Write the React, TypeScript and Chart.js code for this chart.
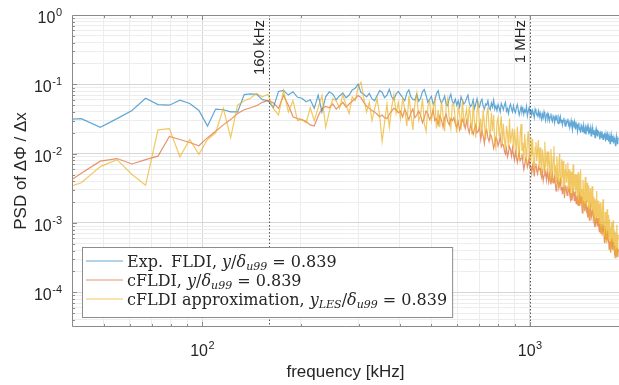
import React, { useEffect, useRef } from "react";
import { Chart, registerables } from "chart.js";

Chart.register(...registerables);

// ---- frequency grid (FFT bins, kHz) ----
const BIN_KHZ = 6.1;
const FIRST_BIN = 6;

// ---- PSD series (one value per bin) ----
const EXP_FLDI = [
  0.031, 0.032, 0.024, 0.032, 0.042, 0.063, 0.051, 0.050, 0.059, 0.053,
  0.042, 0.025, 0.044, 0.043, 0.040, 0.040, 0.071, 0.073, 0.072, 0.060,
  0.058, 0.046, 0.079, 0.082, 0.070, 0.078, 0.065, 0.063, 0.056, 0.060,
  0.045, 0.070, 0.040, 0.066, 0.078, 0.072, 0.060, 0.068, 0.075, 0.064,
  0.070, 0.083, 0.088, 0.100, 0.076, 0.072, 0.066, 0.074, 0.062, 0.058,
  0.069, 0.081, 0.077, 0.064, 0.070, 0.085, 0.066, 0.060, 0.073, 0.079,
  0.071, 0.064, 0.058, 0.075, 0.083, 0.066, 0.061, 0.059, 0.072, 0.057,
  0.063, 0.078, 0.084, 0.069, 0.055, 0.061, 0.067, 0.052, 0.058, 0.074,
  0.081, 0.062, 0.054, 0.059, 0.068, 0.051, 0.049, 0.063, 0.072, 0.056,
  0.053, 0.061, 0.050, 0.058, 0.047, 0.066, 0.059, 0.052, 0.055, 0.063,
  0.070, 0.054, 0.048, 0.051, 0.060, 0.045, 0.052, 0.062, 0.049, 0.047,
  0.056, 0.061, 0.048, 0.044, 0.052, 0.050, 0.058, 0.046, 0.043, 0.054,
  0.047, 0.059, 0.044, 0.049, 0.042, 0.051, 0.046, 0.040, 0.053, 0.048,
  0.043, 0.050, 0.055, 0.041, 0.045, 0.038, 0.047, 0.052, 0.044, 0.040,
  0.049, 0.042, 0.039, 0.046, 0.051, 0.043, 0.036, 0.041, 0.047, 0.040,
  0.045, 0.037, 0.043, 0.040, 0.048, 0.035, 0.041, 0.046, 0.039, 0.044,
  0.036, 0.042, 0.038, 0.033, 0.044, 0.040, 0.037, 0.035, 0.041, 0.034,
  0.039, 0.034, 0.031, 0.037, 0.033, 0.040, 0.035, 0.030, 0.036, 0.038,
  0.032, 0.036, 0.030, 0.034, 0.038, 0.031, 0.029, 0.035, 0.033, 0.028,
  0.034, 0.031, 0.036, 0.029, 0.027, 0.033, 0.030, 0.034, 0.028, 0.031,
  0.026, 0.030, 0.033, 0.028, 0.025, 0.031, 0.027, 0.029, 0.032, 0.026,
  0.028, 0.024, 0.026, 0.030, 0.025, 0.022, 0.028, 0.026, 0.029, 0.024,
  0.023, 0.027, 0.025, 0.021, 0.026, 0.028, 0.022, 0.024, 0.020, 0.026,
  0.025, 0.021, 0.023, 0.026, 0.020, 0.022, 0.024, 0.019, 0.023, 0.025,
  0.021, 0.024, 0.019, 0.022, 0.020, 0.023, 0.018, 0.021, 0.024, 0.020,
  0.019, 0.022, 0.020, 0.017, 0.021, 0.023, 0.019, 0.018, 0.022, 0.020,
  0.021, 0.018, 0.016, 0.020, 0.019, 0.017, 0.021, 0.018, 0.016, 0.019,
  0.017, 0.020, 0.018, 0.015, 0.019, 0.017, 0.016, 0.019, 0.018, 0.015,
  0.018, 0.016, 0.014, 0.017, 0.019, 0.016, 0.015, 0.018, 0.016, 0.014,
  0.017, 0.015, 0.016, 0.013, 0.015, 0.018, 0.016, 0.014, 0.015, 0.017,
];

const CFLDI = [
  0.0032, 0.0052, 0.0078, 0.0085, 0.0071, 0.0082, 0.0092, 0.0177, 0.0160, 0.0145,
  0.0130, 0.0170, 0.0210, 0.0260, 0.0310, 0.0380, 0.0430, 0.0460, 0.0490, 0.0550,
  0.0580, 0.0540, 0.0450, 0.0690, 0.0500, 0.0340, 0.0320, 0.0310, 0.0290, 0.0260,
  0.0250, 0.0350, 0.0450, 0.0480, 0.0460, 0.0520, 0.0440, 0.0490, 0.0550, 0.0470,
  0.0520, 0.0570, 0.0620, 0.0690, 0.0640, 0.0550, 0.0480, 0.0450, 0.0420, 0.0400,
  0.0370, 0.0340, 0.0360, 0.0330, 0.0320, 0.0370, 0.0410, 0.0450, 0.0430, 0.0390,
  0.041, 0.034, 0.044, 0.037, 0.031, 0.039, 0.044, 0.033, 0.036, 0.041,
  0.036, 0.028, 0.033, 0.041, 0.038, 0.031, 0.034, 0.043, 0.030, 0.032,
  0.026, 0.035, 0.031, 0.024, 0.033, 0.037, 0.029, 0.026, 0.032, 0.030,
  0.033, 0.027, 0.024, 0.029, 0.022, 0.026, 0.031, 0.028, 0.023, 0.030,
  0.024, 0.020, 0.026, 0.022, 0.019, 0.023, 0.026, 0.020, 0.021, 0.025,
  0.016, 0.021, 0.018, 0.014, 0.020, 0.022, 0.017, 0.015, 0.019, 0.018,
  0.015, 0.012, 0.014, 0.017, 0.016, 0.013, 0.0145, 0.018, 0.0126, 0.0136,
  0.0134, 0.011, 0.0099, 0.0119, 0.0090, 0.0106, 0.0127, 0.0114, 0.0092, 0.0121,
  0.0097, 0.0081, 0.0106, 0.0088, 0.0075, 0.0092, 0.0104, 0.0079, 0.0085, 0.0099,
  0.0075, 0.0059, 0.0069, 0.0085, 0.0080, 0.0064, 0.0071, 0.0089, 0.0062, 0.0067,
  0.0052, 0.0068, 0.0060, 0.0047, 0.0065, 0.0072, 0.0056, 0.0051, 0.0064, 0.0059,
  0.0061, 0.0050, 0.0045, 0.0054, 0.0041, 0.0048, 0.0058, 0.0052, 0.0042, 0.0055,
  0.0046, 0.0039, 0.0050, 0.0042, 0.0036, 0.0044, 0.0050, 0.0038, 0.0041, 0.0047,
  0.0037, 0.0029, 0.0034, 0.0042, 0.0039, 0.0032, 0.0035, 0.0044, 0.0030, 0.0033,
  0.0026, 0.0033, 0.0030, 0.0023, 0.0032, 0.0035, 0.0028, 0.0025, 0.0031, 0.0029,
  0.0031, 0.0025, 0.0022, 0.0027, 0.0021, 0.0024, 0.0029, 0.0026, 0.0021, 0.0028,
  0.0023, 0.0019, 0.0025, 0.0021, 0.0018, 0.0022, 0.0025, 0.0019, 0.0020, 0.0024,
  0.0018, 0.0014, 0.0016, 0.0020, 0.0019, 0.0015, 0.0017, 0.0021, 0.0015, 0.0016,
  0.0012, 0.0016, 0.0014, 0.0011, 0.0015, 0.0017, 0.0013, 0.0012, 0.0015, 0.0014,
  0.0013, 0.00107, 0.00096, 0.00116, 0.00088, 0.00103, 0.00123, 0.00111, 0.00090, 0.00118,
  0.00090, 0.00075, 0.00098, 0.00082, 0.00070, 0.00086, 0.00097, 0.00074, 0.00080, 0.00092,
  0.00065, 0.00051, 0.00060, 0.00074, 0.00069, 0.00056, 0.00062, 0.00078, 0.00054, 0.00058,
  0.00042, 0.00055, 0.00049, 0.00038, 0.00053, 0.00059, 0.00046, 0.00041, 0.00052, 0.00048,
  0.00046, 0.00038, 0.00034, 0.00041, 0.00031, 0.00036, 0.00044, 0.00040, 0.00032, 0.00042,
];

const CFLDI_APPROX = [
  0.0030, 0.0038, 0.0065, 0.0082, 0.0050, 0.0035, 0.022, 0.023, 0.0090, 0.016,
  0.0098, 0.016, 0.020, 0.045, 0.017, 0.050, 0.058, 0.063, 0.074, 0.066,
  0.072, 0.045, 0.036, 0.082, 0.040, 0.058, 0.030, 0.031, 0.028, 0.046,
  0.030, 0.046, 0.069, 0.024, 0.040, 0.062, 0.058, 0.045, 0.071, 0.050,
  0.038, 0.066, 0.058, 0.090, 0.107, 0.062, 0.040, 0.055, 0.030, 0.044,
  0.062, 0.035, 0.015, 0.028, 0.052, 0.024, 0.046, 0.071, 0.038, 0.055,
  0.032, 0.062, 0.044, 0.025, 0.068, 0.038, 0.022, 0.052, 0.074, 0.030,
  0.036, 0.063, 0.027, 0.021, 0.048, 0.057, 0.030, 0.044, 0.061, 0.023,
  0.043, 0.024, 0.058, 0.036, 0.021, 0.049, 0.063, 0.031, 0.023, 0.052,
  0.051, 0.031, 0.020, 0.048, 0.037, 0.022, 0.061, 0.027, 0.034, 0.044,
  0.025, 0.048, 0.034, 0.019, 0.053, 0.029, 0.017, 0.040, 0.057, 0.023,
  0.032, 0.018, 0.043, 0.027, 0.016, 0.036, 0.047, 0.023, 0.018, 0.039,
  0.021, 0.036, 0.015, 0.012, 0.028, 0.033, 0.018, 0.025, 0.035, 0.013,
  0.027, 0.016, 0.011, 0.025, 0.020, 0.012, 0.032, 0.014, 0.018, 0.023,
  0.0116, 0.0225, 0.0160, 0.0090, 0.0247, 0.0138, 0.0080, 0.0189, 0.0268, 0.0109,
  0.0144, 0.0082, 0.0192, 0.0120, 0.0070, 0.0162, 0.0210, 0.0102, 0.0078, 0.0174,
  0.0093, 0.0162, 0.0069, 0.0054, 0.0123, 0.0147, 0.0078, 0.0113, 0.0157, 0.0059,
  0.0123, 0.0074, 0.0049, 0.0115, 0.0090, 0.0054, 0.0148, 0.0064, 0.0082, 0.0107,
  0.0055, 0.0107, 0.0076, 0.0043, 0.0117, 0.0066, 0.0038, 0.0090, 0.0128, 0.0052,
  0.0068, 0.0039, 0.0091, 0.0057, 0.0033, 0.0077, 0.0100, 0.0048, 0.0037, 0.0083,
  0.0045, 0.0078, 0.0033, 0.0026, 0.0059, 0.0071, 0.0038, 0.0054, 0.0075, 0.0028,
  0.0059, 0.0035, 0.0023, 0.0055, 0.0043, 0.0026, 0.0070, 0.0030, 0.0039, 0.0051,
  0.0026, 0.0050, 0.0035, 0.0020, 0.0054, 0.0030, 0.0018, 0.0042, 0.0059, 0.0024,
  0.0031, 0.0018, 0.0042, 0.0026, 0.0015, 0.0035, 0.0046, 0.0022, 0.0017, 0.0038,
  0.0020, 0.0035, 0.0015, 0.0012, 0.0026, 0.0032, 0.0017, 0.0024, 0.0034, 0.0013,
  0.0024, 0.0014, 0.00096, 0.0022, 0.0018, 0.00106, 0.0029, 0.00125, 0.0016, 0.0021,
  0.00096, 0.0019, 0.0013, 0.00074, 0.0020, 0.00114, 0.00066, 0.00156, 0.0022, 0.00090,
  0.00108, 0.00061, 0.00144, 0.00090, 0.00052, 0.00122, 0.00158, 0.00077, 0.00059, 0.0013,
  0.00065, 0.00112, 0.00048, 0.00037, 0.00085, 0.00102, 0.00054, 0.00078, 0.00109, 0.00041,
  0.00078, 0.00047, 0.00031, 0.00073, 0.00057, 0.00034, 0.00094, 0.00041, 0.00052, 0.00068,
];

// ---- axes ----
const X_MIN = 40;
const X_MAX = 1870;
const Y_MIN = 3.16e-5;
const Y_MAX = 1;
const X_GRID = [40, 50, 60, 70, 80, 90, 100, 200, 300, 400, 500, 600, 700, 800, 900, 1000];
const Y_DECADES = [1e-5, 1e-4, 1e-3, 1e-2, 1e-1, 1];
const MINOR_STEPS = [1, 2, 3, 4, 5, 6, 7, 8, 9];
const X_TICK_LABELS = [{ value: 100, exp: "2" }, { value: 1000, exp: "3" }];
const Y_TICK_LABELS = [
  { value: 1, exp: "0" },
  { value: 0.1, exp: "-1" },
  { value: 0.01, exp: "-2" },
  { value: 0.001, exp: "-3" },
  { value: 0.0001, exp: "-4" },
];
const MARKERS = [
  { value: 160, label: "160 kHz" },
  { value: 1000, label: "1 MHz" },
];
const X_TITLE = "frequency [kHz]";
const Y_TITLE = "PSD of \u0394\u03A6 / \u0394x";

// ---- legend ----
const SERIES_NAMES = [
  "Exp. FLDI, y/\u03B4u99 = 0.839",
  "cFLDI, y/\u03B4u99 = 0.839",
  "cFLDI approximation, yLES/\u03B4u99 = 0.839",
];
const LEGEND_RICH = [
  [["Exp.\u2002FLDI, ", "rm"], ["y", "it"], ["/", "rm"], ["\u03B4", "it"], ["u99", "sub"], [" = 0.839", "rm"]],
  [["cFLDI, ", "rm"], ["y", "it"], ["/", "rm"], ["\u03B4", "it"], ["u99", "sub"], [" = 0.839", "rm"]],
  [["cFLDI approximation, ", "rm"], ["y", "it"], ["LES", "sub"], ["/", "rm"], ["\u03B4", "it"], ["u99", "sub"], [" = 0.839", "rm"]],
];

const BLUE = "rgba(0,114,189,0.62)";
const ORANGE = "rgba(217,83,25,0.62)";
const YELLOW = "rgba(237,177,32,0.7)";
const SERIES_COLORS = [BLUE, ORANGE, YELLOW];

const SANS = '"Liberation Sans", Arial, Helvetica, sans-serif';
const SERIF = '"DejaVu Serif", "Liberation Serif", serif';
const TEXT_COLOR = "#262626";
const AXIS_COLOR = "#8a8a8a";

const FREQ_KHZ = EXP_FLDI.map((_, i) => (FIRST_BIN + i) * BIN_KHZ);
const toPoints = (vals: number[]) => vals.map((v, i) => ({ x: FREQ_KHZ[i], y: v }));

const isDecade = (v: number) => Math.abs(Math.log10(v) - Math.round(Math.log10(v))) < 1e-6;
const Y_GRID = Y_DECADES.flatMap((d) => MINOR_STEPS.map((m) => m * d)).filter(
  (v) => v >= Y_MIN * 0.999 && v <= Y_MAX * 1.001
);

function drawPow(ctx: CanvasRenderingContext2D, x: number, baseY: number, exp: string, align: "right" | "center") {
  ctx.font = `16px ${SANS}`;
  const w10 = ctx.measureText("10").width;
  ctx.font = `11px ${SANS}`;
  const we = ctx.measureText(exp).width;
  const total = w10 + we + 0.5;
  const start = align === "right" ? x - total : x - total / 2;
  ctx.textAlign = "left";
  ctx.textBaseline = "alphabetic";
  ctx.fillStyle = TEXT_COLOR;
  ctx.font = `16px ${SANS}`;
  ctx.fillText("10", start, baseY);
  ctx.font = `11px ${SANS}`;
  ctx.fillText(exp, start + w10 + 0.5, baseY - 7);
}

const decorPlugin = {
  id: "decor",
  beforeDatasetsDraw(chart: any) {
    const { ctx, chartArea } = chart;
    const xs = chart.scales.x;
    ctx.save();
    ctx.strokeStyle = "#555555";
    ctx.lineWidth = 1;
    ctx.setLineDash([1.5, 2]);
    MARKERS.forEach((m) => {
      const px = Math.round(xs.getPixelForValue(m.value)) + 0.5;
      ctx.beginPath();
      ctx.moveTo(px, chartArea.top);
      ctx.lineTo(px, chartArea.bottom);
      ctx.stroke();
    });
    ctx.restore();
  },
  afterDatasetsDraw(chart: any) {
    const { ctx, chartArea } = chart;
    const xs = chart.scales.x;
    const ys = chart.scales.y;
    const { left, right, top, bottom } = chartArea;
    ctx.save();
    // frame
    ctx.strokeStyle = AXIS_COLOR;
    ctx.lineWidth = 1;
    ctx.beginPath();
    ctx.moveTo(right, top + 0.5);
    ctx.lineTo(left + 0.5, top + 0.5);
    ctx.lineTo(left + 0.5, bottom - 0.5);
    ctx.lineTo(right, bottom - 0.5);
    ctx.stroke();
    // inward ticks
    ctx.beginPath();
    X_GRID.forEach((v) => {
      if (v <= X_MIN) return;
      const px = Math.round(xs.getPixelForValue(v)) + 0.5;
      const len = isDecade(v) ? 5 : 3;
      ctx.moveTo(px, bottom);
      ctx.lineTo(px, bottom - len);
      ctx.moveTo(px, top);
      ctx.lineTo(px, top + len);
    });
    Y_GRID.forEach((v) => {
      if (v >= Y_MAX) return;
      const py = Math.round(ys.getPixelForValue(v)) + 0.5;
      const len = isDecade(v) ? 5 : 3;
      ctx.moveTo(left, py);
      ctx.lineTo(left + len, py);
    });
    ctx.stroke();
    // tick labels
    X_TICK_LABELS.forEach((t) => drawPow(ctx, xs.getPixelForValue(t.value), bottom + 29, t.exp, "center"));
    Y_TICK_LABELS.forEach((t) => drawPow(ctx, left - 10, ys.getPixelForValue(t.value) + 8, t.exp, "right"));
    // marker labels
    ctx.fillStyle = TEXT_COLOR;
    ctx.font = `15px ${SANS}`;
    MARKERS.forEach((m) => {
      const px = xs.getPixelForValue(m.value);
      ctx.save();
      ctx.translate(px - 5, top + 5);
      ctx.rotate(-Math.PI / 2);
      ctx.textAlign = "right";
      ctx.textBaseline = "alphabetic";
      ctx.fillText(m.label, 0, 0);
      ctx.restore();
    });
    // legend
    const size = 16;
    const fontFor = (s: string) =>
      s === "sub" ? `italic ${Math.round(size * 0.7)}px ${SERIF}` : s === "it" ? `italic ${size}px ${SERIF}` : `${size}px ${SERIF}`;
    const widths = LEGEND_RICH.map((segs) =>
      segs.reduce((acc, [t, s]) => {
        ctx.font = fontFor(s);
        return acc + ctx.measureText(t).width;
      }, 0)
    );
    const bx = left + 10;
    const bh = 70;
    const by = bottom - 10 - bh;
    const textX = bx + 45;
    const bw = textX - bx + Math.max(...widths) + 5;
    ctx.fillStyle = "#ffffff";
    ctx.fillRect(bx, by, bw, bh);
    ctx.strokeStyle = "#8c8c8c";
    ctx.lineWidth = 1;
    ctx.strokeRect(bx + 0.5, by + 0.5, bw, bh);
    LEGEND_RICH.forEach((segs, i) => {
      const ly = by + 14 + i * 19;
      ctx.strokeStyle = SERIES_COLORS[i];
      ctx.lineWidth = 1.2;
      ctx.beginPath();
      ctx.moveTo(bx + 4, ly);
      ctx.lineTo(bx + 41, ly);
      ctx.stroke();
      let cx = textX;
      ctx.fillStyle = TEXT_COLOR;
      ctx.textAlign = "left";
      ctx.textBaseline = "alphabetic";
      segs.forEach(([t, s]) => {
        ctx.font = fontFor(s);
        ctx.fillText(t, cx, ly + 5.5 + (s === "sub" ? 3.5 : 0));
        cx += ctx.measureText(t).width;
      });
    });
    ctx.restore();
  },
};

export default function App() {
  const ref = useRef<HTMLCanvasElement | null>(null);
  useEffect(() => {
    if (!ref.current) return;
    const gridColor = (c: any) => (isDecade(c.tick.value) ? "#d6d6d6" : "#ededed");
    const chart = new Chart(ref.current, {
      type: "line",
      data: {
        datasets: [
          { label: SERIES_NAMES[2], data: toPoints(CFLDI_APPROX), borderColor: YELLOW, order: 0 },
          { label: SERIES_NAMES[1], data: toPoints(CFLDI), borderColor: ORANGE, order: 1 },
          { label: SERIES_NAMES[0], data: toPoints(EXP_FLDI), borderColor: BLUE, order: 2 },
        ],
      },
      options: {
        animation: false,
        responsive: true,
        maintainAspectRatio: false,
        events: [],
        layout: { padding: { top: 15, right: 0, bottom: 0, left: 0 } },
        elements: {
          line: { borderWidth: 1.2, tension: 0, fill: false },
          point: { radius: 0 },
        },
        plugins: { legend: { display: false }, tooltip: { enabled: false } },
        scales: {
          x: {
            type: "logarithmic",
            min: X_MIN,
            max: X_MAX,
            afterBuildTicks: (s: any) => {
              s.ticks = X_GRID.map((v) => ({ value: v, major: isDecade(v) }));
            },
            afterFit: (s: any) => {
              s.height = 58;
            },
            ticks: { display: false, autoSkip: false },
            grid: { color: gridColor, drawTicks: false, lineWidth: 1 },
            border: { display: false },
            title: {
              display: true,
              text: X_TITLE,
              color: TEXT_COLOR,
              font: { family: SANS, size: 17 },
              padding: { top: 0, bottom: 2 },
            },
          },
          y: {
            type: "logarithmic",
            min: Y_MIN,
            max: Y_MAX,
            afterBuildTicks: (s: any) => {
              s.ticks = Y_GRID.map((v) => ({ value: v, major: isDecade(v) }));
            },
            afterFit: (s: any) => {
              s.width = 72;
            },
            ticks: { display: false, autoSkip: false },
            grid: { color: gridColor, drawTicks: false, lineWidth: 1 },
            border: { display: false },
            title: {
              display: true,
              text: Y_TITLE,
              color: TEXT_COLOR,
              font: { family: SANS, size: 17 },
              padding: { top: 11, bottom: 0 },
            },
          },
        },
      } as any,
      plugins: [decorPlugin],
    });
    return () => chart.destroy();
  }, []);
  return (
    <div style={{ position: "fixed", left: 0, top: 0, width: 619, height: 385, background: "#fff" }}>
      <canvas ref={ref} />
    </div>
  );
}
